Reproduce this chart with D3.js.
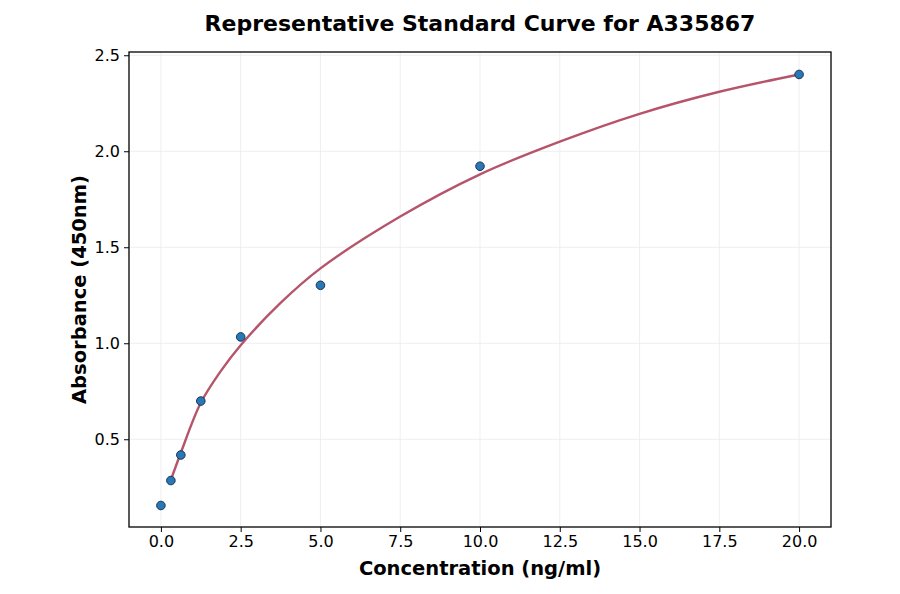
<!DOCTYPE html>
<html>
<head>
<meta charset="utf-8">
<script src="https://cdn.jsdelivr.net/npm/d3@7"></script>
<style>
  body { margin: 0; background: #fff; }
  svg text { font-family: "DejaVu Sans", sans-serif; fill: #000; }
  .tick text { font-size: 16px; }
</style>
</head>
<body>
<div id="chart"></div>
<script>
// data
const concentrations = [0, 0.3125, 0.625, 1.25, 2.5, 5, 10, 20];
const absorbances = [0.155, 0.285, 0.418, 0.699, 1.033, 1.302, 1.922, 2.40];

// fitted curve
const curveX = [0.3125, 0.625, 1.25, 1.875, 2.5, 3.75, 5, 7.5, 10, 12.5, 15, 17.5, 20];
const curveY = [0.288, 0.43, 0.69, 0.855, 0.99, 1.21, 1.39, 1.66, 1.88, 2.05, 2.195, 2.31, 2.40];

const xTicks = [0, 2.5, 5, 7.5, 10, 12.5, 15, 17.5, 20];
const yTicks = [0.5, 1.0, 1.5, 2.0, 2.5];

const width = 900;
const height = 594;
const margin = { top: 52, right: 69, bottom: 67, left: 129 };

const svg = d3.select("#chart").append("svg")
  .attr("width", width)
  .attr("height", height);

const x = d3.scaleLinear().domain([-1, 21])
  .range([margin.left, width - margin.right]);
const y = d3.scaleLinear().domain([0.043, 2.517])
  .range([height - margin.bottom, margin.top]);

// grid
svg.append("g")
  .selectAll("line")
  .data(xTicks)
  .join("line")
  .attr("x1", d => x(d)).attr("x2", d => x(d))
  .attr("y1", margin.top).attr("y2", height - margin.bottom)
  .attr("stroke", "#ebebeb").attr("stroke-width", 0.8);

svg.append("g")
  .selectAll("line")
  .data(yTicks)
  .join("line")
  .attr("x1", margin.left).attr("x2", width - margin.right)
  .attr("y1", d => y(d)).attr("y2", d => y(d))
  .attr("stroke", "#ebebeb").attr("stroke-width", 0.8);

// axes
const xAxis = svg.append("g")
  .attr("transform", `translate(0,${height - margin.bottom})`)
  .call(d3.axisBottom(x).tickValues(xTicks).tickFormat(d3.format(".1f")).tickSize(5).tickPadding(4));
const yAxis = svg.append("g")
  .attr("transform", `translate(${margin.left},0)`)
  .call(d3.axisLeft(y).tickValues(yTicks).tickFormat(d3.format(".1f")).tickSize(5).tickPadding(4));
[xAxis, yAxis].forEach(a => {
  a.select(".domain").remove();
  a.selectAll(".tick line").attr("stroke", "#000").attr("stroke-width", 1);
});

// frame
svg.append("rect")
  .attr("x", margin.left).attr("y", margin.top)
  .attr("width", width - margin.left - margin.right)
  .attr("height", height - margin.top - margin.bottom)
  .attr("fill", "none").attr("stroke", "#000").attr("stroke-width", 1.3);

// curve
const line = d3.line()
  .x((d, i) => x(curveX[i]))
  .y(d => y(d))
  .curve(d3.curveCatmullRom.alpha(0.5));

svg.append("path")
  .datum(curveY)
  .attr("d", line)
  .attr("fill", "none")
  .attr("stroke", "#b5546a")
  .attr("stroke-width", 2.4);

// points
svg.append("g")
  .selectAll("circle")
  .data(absorbances)
  .join("circle")
  .attr("cx", (d, i) => x(concentrations[i]))
  .attr("cy", d => y(d))
  .attr("r", 4.3)
  .attr("fill", "#2878b8")
  .attr("stroke", "#1b3550")
  .attr("stroke-width", 1);

// labels
svg.append("text")
  .attr("x", (margin.left + width - margin.right) / 2)
  .attr("y", 31)
  .attr("text-anchor", "middle")
  .attr("font-size", 22)
  .attr("font-weight", "bold")
  .text("Representative Standard Curve for A335867");

svg.append("text")
  .attr("x", (margin.left + width - margin.right) / 2)
  .attr("y", 575)
  .attr("text-anchor", "middle")
  .attr("font-size", 19.5)
  .attr("font-weight", "bold")
  .text("Concentration (ng/ml)");

svg.append("text")
  .attr("transform", `translate(86,${(margin.top + height - margin.bottom) / 2}) rotate(-90)`)
  .attr("text-anchor", "middle")
  .attr("font-size", 19.5)
  .attr("font-weight", "bold")
  .text("Absorbance (450nm)");
</script>
</body>
</html>
